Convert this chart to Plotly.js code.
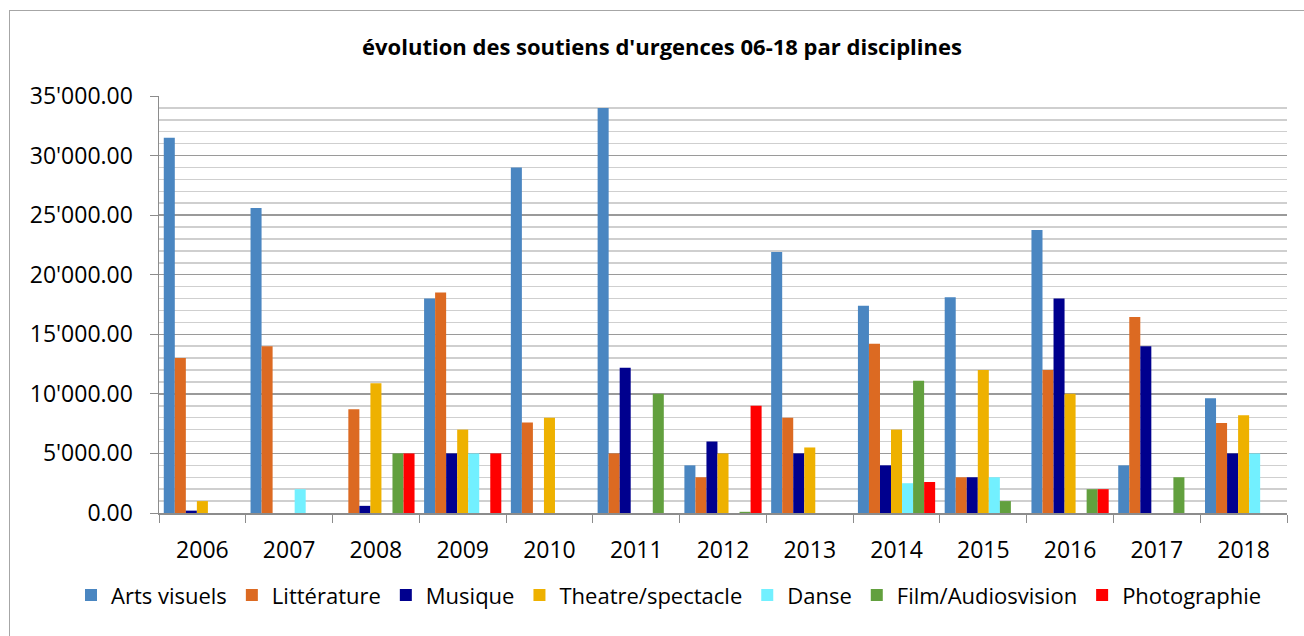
<!DOCTYPE html>
<html>
<head>
<meta charset="utf-8">
<script src="https://cdn.plot.ly/plotly-3.0.1.min.js"></script>
<style>
html,body{margin:0;padding:0;background:#fff;overflow:hidden;}
#wrap{position:absolute;left:0;top:0;width:1304px;height:636px;}
#frame{position:absolute;left:9px;top:10px;width:1400px;height:700px;border:1px solid #a6a6a6;pointer-events:none;}
#chart{position:absolute;left:0;top:0;width:1304px;height:636px;}
</style>
</head>
<body>
<div id="wrap">
<div id="chart"></div>
<div id="frame"></div>
</div>
<script>
const years = ['2006','2007','2008','2009','2010','2011','2012','2013','2014','2015','2016','2017','2018'];
const artsVisuels   = [31500, 25600, null, 18000, 29000, 34000, 4000, 21900, 17400, 18100, 23750, 4000, 9640];
const litterature   = [13000, 14000, 8700, 18500, 7600, 5000, 3000, 8000, 14200, 3000, 12000, 16450, 7560];
const musique       = [200, null, 600, 5000, null, 12200, 6000, 5000, 4000, 3000, 18000, 14000, 5000];
const theatre       = [1000, null, 10900, 7000, 8000, null, 5000, 5500, 7000, 12000, 10000, null, 8200];
const danse         = [null, 2000, null, 5000, null, null, null, null, 2500, 3000, null, null, 5000];
const film          = [null, null, 5000, null, null, 10000, 100, null, 11100, 1000, 2000, 3000, null];
const photographie  = [null, null, 5000, 5000, null, null, 9000, null, 2600, null, 2000, null, null];

const seriesNames = ['Arts visuels','Littérature','Musique','Theatre/spectacle','Danse','Film/Audiosvision','Photographie'];
const seriesData = [artsVisuels, litterature, musique, theatre, danse, film, photographie];
const seriesColors = ['#4A86C1','#DC6A22','#00008E','#EEB100','#72F0FF','#62A03E','#FF0000'];

const traces = seriesNames.map((n,i)=>({
  type:'bar', name:n, x:years, y:seriesData[i],
  marker:{color:seriesColors[i]}, hoverinfo:'x+y+name'
}));

const font = 'Open Sans, sans-serif';
const W = 1304, H = 636;
const layout = {
  width:W, height:H,
  margin:{l:0, r:0, t:96, b:123, autoexpand:false},
  paper_bgcolor:'rgba(0,0,0,0)', plot_bgcolor:'#fff',
  separators:".'",
  barmode:'group', bargap:0.11, bargroupgap:0,
  title:{text:"évolution des soutiens d'urgences 06-18 par disciplines",
         font:{family:font, size:22, color:'#000', weight:'bold'},
         x:662/W, xanchor:'center', y:1-47/H, yanchor:'middle'},
  xaxis:{type:'category', domain:[159/W, 1287/W], tickson:'boundaries', ticks:'outside', ticklen:8, tickcolor:'#8c8c8c',
         showline:true, linecolor:'#8c8c8c', linewidth:1.5, showgrid:false, automargin:false,
         tickfont:{family:font, size:23, color:'#000'}, ticklabelstandoff:16},
  yaxis:{range:[0,35000], dtick:5000, tick0:0, tickformat:",.2f", ticks:'outside', ticklen:8,
         tickcolor:'#8c8c8c', showline:true, linecolor:'#8c8c8c', linewidth:1.5, automargin:false,
         showgrid:true, gridcolor:'#9a9a9a', gridwidth:1.5, zeroline:false,
         tickfont:{family:font, size:23, color:'#000'}, ticklabelstandoff:12,
         minor:{dtick:1000, tick0:0, showgrid:true, gridcolor:'#cfcfcf', gridwidth:1.5}},
  legend:{orientation:'h', x:669/W, xanchor:'center', y:-0.197, yanchor:'middle',
          font:{family:font, size:22, color:'#000'}, itemwidth:30, tracegroupgap:0,
          traceorder:'normal'},
  showlegend:true
};
Plotly.newPlot('chart', traces, layout, {displayModeBar:false, staticPlot:true});
</script>
</body>
</html>
